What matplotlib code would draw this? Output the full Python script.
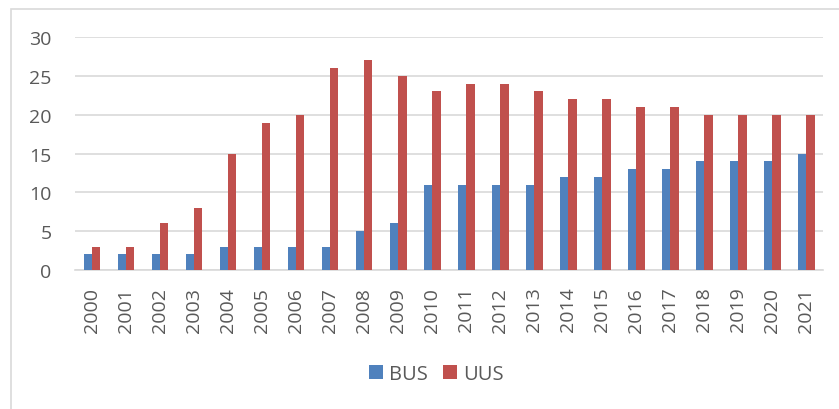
import numpy as np
import matplotlib
matplotlib.use('Agg')
import matplotlib.pyplot as plt
from matplotlib.patches import Rectangle

plt.rcParams['font.family'] = ['Open Sans', 'DejaVu Sans']

# data
years = [str(y) for y in range(2000, 2022)]
bus = [2, 2, 2, 2, 3, 3, 3, 3, 5, 6, 11, 11, 11, 11, 12, 12, 13, 13, 14, 14, 14, 15]
uus = [3, 3, 6, 8, 15, 19, 20, 26, 27, 25, 23, 24, 24, 23, 22, 22, 21, 21, 20, 20, 20, 20]

blue = '#4F81BD'
red = '#C0504D'
txt = '#595959'

fig = plt.figure(figsize=(8.39, 4.10), dpi=100)
ax = fig.add_axes([0.0894, 0.339, 0.892, 0.568])

x = np.arange(len(years))
w = 0.245
ax.bar(x - w / 2, bus, w, color=blue, label='BUS', zorder=3)
ax.bar(x + w / 2, uus, w, color=red, label='UUS', zorder=3)

ax.set_xlim(-0.5, len(years) - 0.5)
ax.set_ylim(0, 30)
ax.set_yticks(range(0, 31, 5))
ax.set_xticks(x)
ax.set_xticklabels(years, rotation=90)
ax.tick_params(axis='both', length=0, labelsize=14, colors=txt)
ax.tick_params(axis='x', pad=12)
ax.tick_params(axis='y', pad=17)
ax.grid(axis='y', color='#D9D9D9', linewidth=1.2, zorder=0)
for s in ['top', 'right', 'left']:
    ax.spines[s].set_visible(False)
ax.spines['bottom'].set_color('#D9D9D9')
ax.spines['bottom'].set_linewidth(1.2)

leg = fig.legend(loc='center', bbox_to_anchor=(0.52, 0.085), ncol=2, frameon=False,
                 fontsize=14.5, handlelength=0.7, handleheight=0.7, columnspacing=0.75,
                 handletextpad=0.3)
for t in leg.get_texts():
    t.set_color(txt)

# outer chart border (right and bottom edges fall outside the image)
fig.patches.append(Rectangle((11 / 839, -0.01), 1.0, 1 - 10 / 410 + 0.01,
                             transform=fig.transFigure, fill=False,
                             edgecolor='#D9D9D9', linewidth=1.2))

plt.savefig('out.png', dpi=100)
